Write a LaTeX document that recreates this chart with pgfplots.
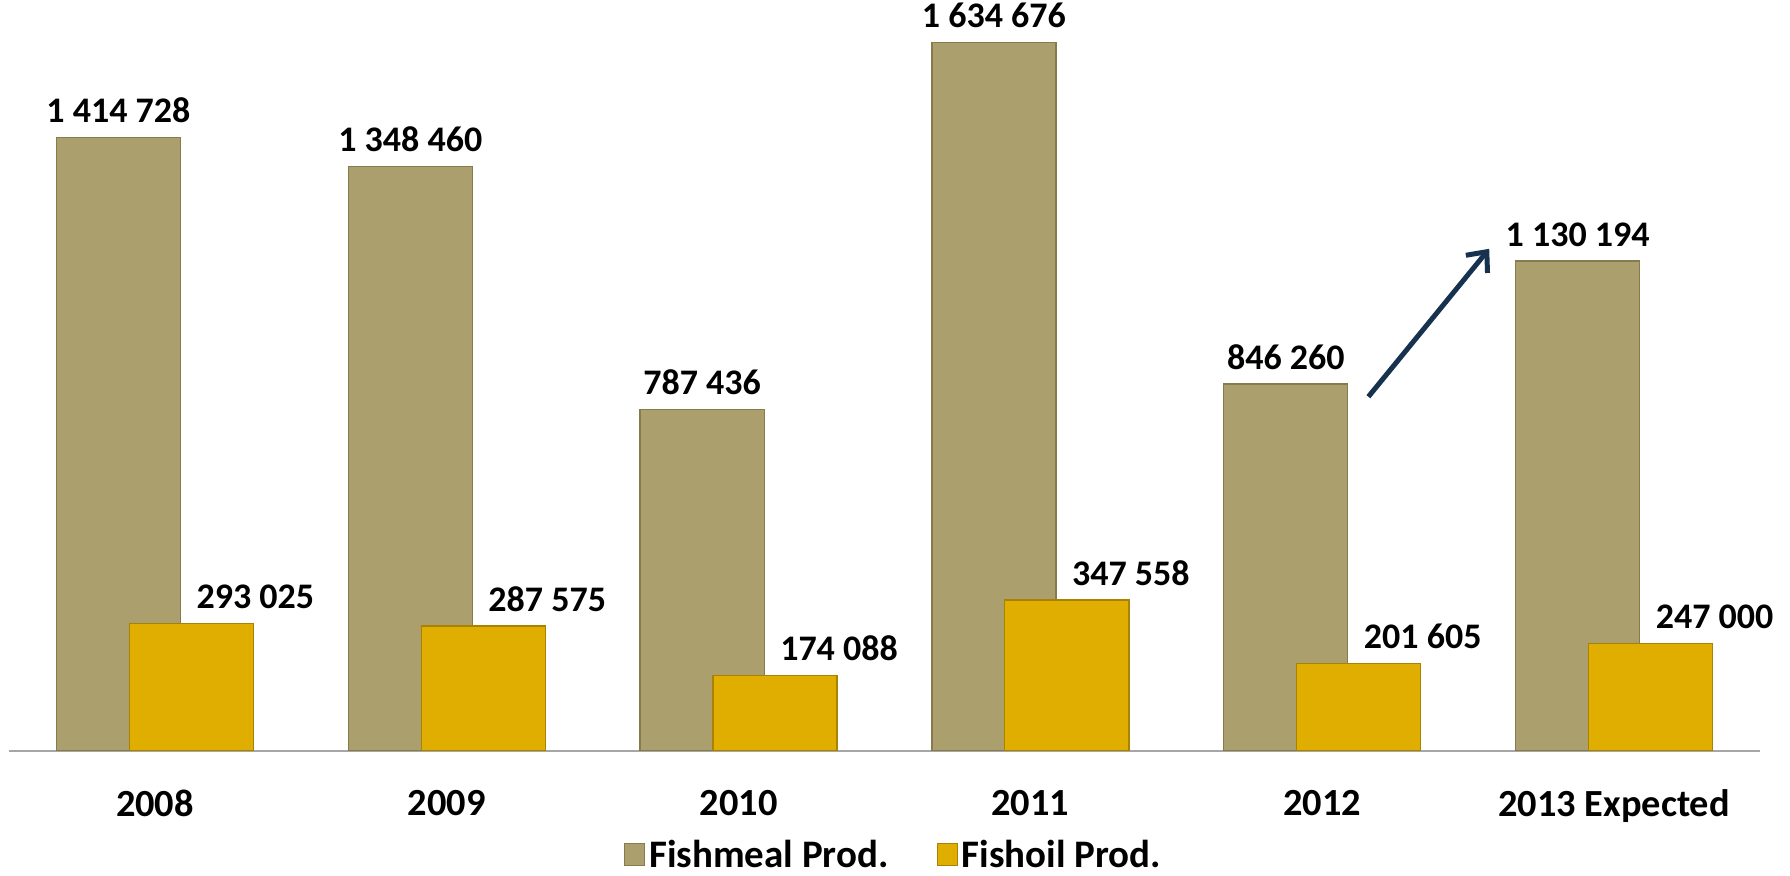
\documentclass[border=0pt]{standalone}
\usepackage{fontspec}
\setmainfont{Carlito}
\usepackage{pgfplots}
\pgfplotsset{compat=1.18}
\usetikzlibrary{arrows.meta}
\definecolor{meal}{HTML}{ABA06D}
\definecolor{mealedge}{HTML}{857B4C}
\definecolor{oil}{HTML}{DFAE00}
\definecolor{oiledge}{HTML}{A88200}
\definecolor{navy}{HTML}{17324F}
\begin{document}
\begin{tikzpicture}
\begin{axis}[
  name=ax,
  scale only axis,
  width=876pt, height=375.5pt,
  xmin=-0.5, xmax=5.5,
  ymin=0, ymax=1733000,
  ybar,
  bar width=0.425,
  axis x line*=bottom,
  axis y line=none,
  x axis line style={draw=gray!70, line width=1pt},
  xtick={0,1,2,3,4,5},
  xticklabels={2008,2009,2010,2011,2012,2013 Expected},
  major tick length=0pt,
  font=\fontsize{18}{21}\selectfont\bfseries,
  xticklabel style={anchor=north, inner sep=0pt, yshift=-19.5pt, font=\fontsize{19.2}{22}\selectfont\bfseries},
  point meta=explicit symbolic,
  nodes near coords,
  every node near coord/.append style={font=\fontsize{18}{21}\selectfont\bfseries, anchor=south, inner sep=0pt, yshift=7pt},
  legend columns=2,
  legend style={at={(0.5,0)}, anchor=center, xshift=5pt, yshift=-52.5pt, draw=none, fill=none,
    font=\fontsize{19.5}{22}\selectfont\bfseries,
    /tikz/every even column/.append style={column sep=22pt}},
  legend image code/.code={\fill[#1] (0pt,-5pt) rectangle (10pt,6pt);},
]
\addplot[fill=meal, draw=mealedge, line width=0.6pt, bar shift=-0.125] coordinates {
  (0,1414728) [1 414 728]
  (1,1348460) [1 348 460]
  (2,787436) [787 436]
  (3,1634676) [1 634 676]
  (4,846260) [846 260]
  (5,1130194) [1 130 194]
};
\addlegendentry{Fishmeal Prod.}
\addplot[fill=oil, draw=oiledge, line width=0.6pt, bar shift=0.125,
  every node near coord/.append style={xshift=32pt}] coordinates {
  (0,293025) [293 025]
  (1,287575) [287 575]
  (2,174088) [174 088]
  (3,347558) [347 558]
  (4,201605) [201 605]
  (5,247000) [247 000]
};
\addlegendentry{Fishoil Prod.}
\draw[navy, line width=2.5pt, -{Straight Barb[length=8pt, width=14pt]}] (axis cs:4.158,817000) -- (axis cs:4.572,1158500);
\end{axis}
\pgfresetboundingbox
\path[use as bounding box] ([xshift=-4.5pt,yshift=-62.5pt]ax.south west) rectangle ([xshift=15pt]ax.north east);
\end{tikzpicture}
\end{document}
